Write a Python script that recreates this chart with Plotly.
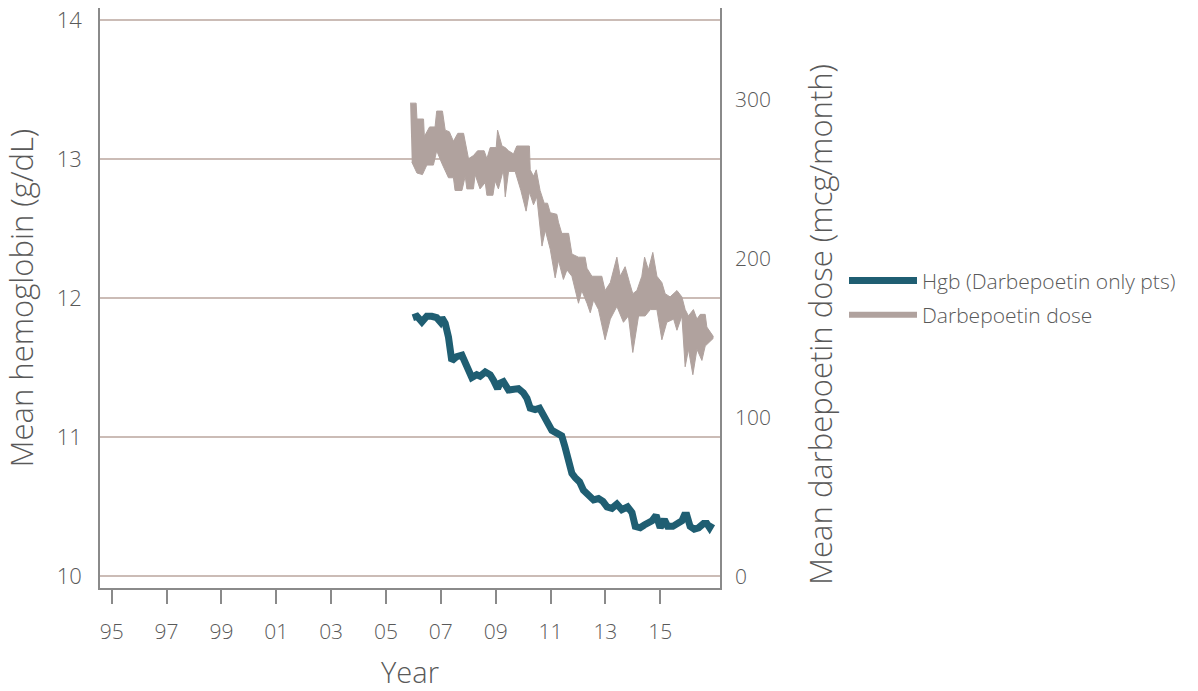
import plotly.graph_objects as go

# Mean hemoglobin, darbepoetin-only patients (g/dL)
hgb_year = [2005.98, 2006.13, 2006.31, 2006.49, 2006.67, 2006.85, 2006.98, 2007.04, 2007.16, 2007.28,
            2007.40, 2007.58, 2007.77, 2007.95, 2008.13, 2008.31, 2008.43, 2008.62, 2008.80, 2008.92,
            2009.07, 2009.16, 2009.28, 2009.47, 2009.65, 2009.83, 2010.01, 2010.14, 2010.26, 2010.44,
            2010.60, 2010.74, 2010.93, 2011.05, 2011.23, 2011.41, 2011.53, 2011.66, 2011.78, 2011.90,
            2012.06, 2012.20, 2012.38, 2012.57, 2012.75, 2012.91, 2013.06, 2013.24, 2013.42, 2013.60,
            2013.81, 2013.97, 2014.09, 2014.27, 2014.42, 2014.57, 2014.70, 2014.85, 2015.00, 2015.15,
            2015.27, 2015.46, 2015.63, 2015.79, 2015.88, 2015.97, 2016.09, 2016.24, 2016.40, 2016.58,
            2016.70, 2016.80, 2016.89]
hgb = [11.86, 11.87, 11.83, 11.87, 11.87, 11.86, 11.83, 11.86, 11.82, 11.72,
       11.55, 11.58, 11.59, 11.51, 11.43, 11.45, 11.44, 11.47, 11.45, 11.41,
       11.35, 11.39, 11.40, 11.34, 11.35, 11.35, 11.32, 11.28, 11.21, 11.20,
       11.21, 11.16, 11.11, 11.05, 11.03, 11.01, 10.93, 10.85, 10.74, 10.71,
       10.68, 10.62, 10.58, 10.55, 10.56, 10.54, 10.50, 10.49, 10.52, 10.48,
       10.50, 10.46, 10.36, 10.35, 10.37, 10.38, 10.40, 10.44, 10.35, 10.41,
       10.36, 10.36, 10.38, 10.40, 10.44, 10.44, 10.36, 10.34, 10.35, 10.38,
       10.38, 10.35, 10.38]

# Darbepoetin dose (mcg/month): upper and lower edges of the monthly swing
dose_hi_year = [2005.88, 2006.10, 2006.13, 2006.37, 2006.40, 2006.59, 2006.79, 2006.85, 2007.06, 2007.16,
                2007.31, 2007.46, 2007.62, 2007.83, 2008.01, 2008.19, 2008.34, 2008.58, 2008.68, 2008.80,
                2009.02, 2009.07, 2009.23, 2009.35, 2009.47, 2009.65, 2009.77, 2010.23, 2010.26, 2010.38,
                2010.48, 2010.62, 2010.77, 2010.89, 2010.99, 2011.23, 2011.29, 2011.41, 2011.66, 2011.78,
                2012.02, 2012.26, 2012.33, 2012.51, 2012.87, 2012.99, 2013.18, 2013.42, 2013.54, 2013.72,
                2013.88, 2014.00, 2014.15, 2014.33, 2014.43, 2014.57, 2014.73, 2014.88, 2015.06, 2015.18,
                2015.36, 2015.61, 2015.79, 2015.91, 2016.03, 2016.21, 2016.34, 2016.46, 2016.64, 2016.70,
                2016.94]
dose_hi = [298, 298, 288, 288, 277, 283, 283, 293, 293, 281,
           280, 274, 279, 279, 263, 265, 268, 268, 263, 270,
           270, 281, 271, 270, 268, 266, 271, 271, 256, 252,
           256, 243, 235, 235, 229, 228, 223, 216, 216, 203,
           201, 201, 194, 189, 189, 180, 185, 201, 189, 195,
           185, 178, 180, 189, 201, 193, 204, 189, 185, 178,
           176, 180, 176, 168, 164, 168, 162, 165, 165, 157,
           151]
dose_lo_year = [2005.94, 2006.13, 2006.33, 2006.49, 2006.73, 2006.85, 2007.04, 2007.28, 2007.46, 2007.52,
                2007.77, 2007.89, 2007.95, 2008.19, 2008.25, 2008.43, 2008.62, 2008.68, 2008.90, 2008.98,
                2009.10, 2009.28, 2009.35, 2009.47, 2009.71, 2009.92, 2010.11, 2010.23, 2010.38, 2010.50,
                2010.69, 2010.81, 2010.99, 2011.17, 2011.29, 2011.47, 2011.60, 2011.78, 2012.02, 2012.14,
                2012.33, 2012.45, 2012.57, 2012.75, 2012.99, 2013.18, 2013.42, 2013.66, 2013.84, 2014.00,
                2014.21, 2014.45, 2014.64, 2014.88, 2015.06, 2015.24, 2015.49, 2015.61, 2015.79, 2015.91,
                2016.03, 2016.19, 2016.34, 2016.52, 2016.64, 2016.94]
dose_lo = [261, 254, 253, 259, 259, 268, 260, 251, 251, 243,
           243, 252, 244, 244, 253, 244, 248, 240, 240, 249,
           244, 256, 239, 255, 255, 243, 230, 242, 234, 239,
           208, 218, 206, 188, 199, 187, 193, 189, 172, 180,
           172, 166, 174, 168, 149, 162, 170, 160, 164, 141,
           164, 164, 168, 168, 149, 160, 162, 155, 164, 132,
           143, 127, 143, 136, 145, 150]

tick_years = [1995, 1997, 1999, 2001, 2003, 2005, 2007, 2009, 2011, 2013, 2015]
tick_text = ["95", "97", "99", "01", "03", "05", "07", "09", "11", "13", "15"]

HGB_COLOR = "#1f5e72"
DOSE_COLOR = "#b0a29e"
AXIS_COLOR = "#8a8a8a"
GRID_COLOR = "#cbbcb6"
TEXT_COLOR = "#595959"
FONT = "Open Sans"

fig = go.Figure()

fig.add_trace(go.Scatter(
    x=hgb_year, y=hgb, mode="lines", name="Hgb (Darbepoetin only pts)",
    line=dict(color=HGB_COLOR, width=7), yaxis="y", legendgroup="a",
))
fig.add_trace(go.Scatter(
    x=dose_hi_year, y=dose_hi, mode="lines", showlegend=False,
    line=dict(color=DOSE_COLOR, width=1), yaxis="y2", hoverinfo="skip",
))
fig.add_trace(go.Scatter(
    x=dose_lo_year, y=dose_lo, mode="lines", showlegend=False,
    line=dict(color=DOSE_COLOR, width=1), fill="tonexty", fillcolor=DOSE_COLOR,
    yaxis="y2",
))
# legend key for the dose band
fig.add_trace(go.Scatter(
    x=[None], y=[None], mode="lines", name="Darbepoetin dose",
    line=dict(color=DOSE_COLOR, width=6), yaxis="y2", legendgroup="b",
))

fig.update_layout(
    width=1198, height=691,
    margin=dict(l=100, r=478, t=8, b=103),
    paper_bgcolor="white", plot_bgcolor="white",
    font=dict(family=FONT, color=TEXT_COLOR, size=21, weight=300),
    showlegend=True,
    legend=dict(
        x=1.2, xanchor="left", y=0.565, yanchor="top",
        font=dict(size=21, color=TEXT_COLOR, family=FONT, weight=300),
        bgcolor="rgba(0,0,0,0)", tracegroupgap=4, traceorder="grouped",
        itemwidth=68,
    ),
    xaxis=dict(
        range=[1994.573, 2017.18], automargin=False,
        tickvals=tick_years, ticktext=tick_text,
        ticks="outside", ticklen=14, tickwidth=1.5, tickcolor=AXIS_COLOR,
        showline=True, linecolor=AXIS_COLOR, linewidth=1.5,
        showgrid=False, zeroline=False, ticklabelstandoff=10,
        tickfont=dict(size=21),
        title=dict(text="Year", font=dict(size=29), standoff=28),
    ),
    yaxis=dict(
        range=[9.917, 14.086], automargin=False,
        tickvals=[10, 11, 12, 13, 14],
        showline=True, linecolor=AXIS_COLOR, linewidth=1.5,
        showgrid=True, gridcolor=GRID_COLOR, gridwidth=1.5,
        zeroline=False, ticks="", ticklabelstandoff=12,
        tickfont=dict(size=22),
        title=dict(text="Mean hemoglobin (g/dL)", font=dict(size=31), standoff=16),
    ),
    yaxis2=dict(
        range=[-7.3, 357.9], overlaying="y", side="right", automargin=False,
        tickvals=[0, 100, 200, 300],
        showline=True, linecolor=AXIS_COLOR, linewidth=1.5,
        showgrid=False, zeroline=False, ticks="", ticklabelstandoff=9,
        tickfont=dict(size=21),
    ),
    annotations=[dict(
        text="Mean darbepoetin dose (mcg/month)", textangle=-90,
        xref="paper", yref="paper", x=1.1613, y=0.454,
        xanchor="center", yanchor="middle", showarrow=False,
        font=dict(size=31, family=FONT, color=TEXT_COLOR, weight=300),
    )],
)

fig.write_html("out.html")
